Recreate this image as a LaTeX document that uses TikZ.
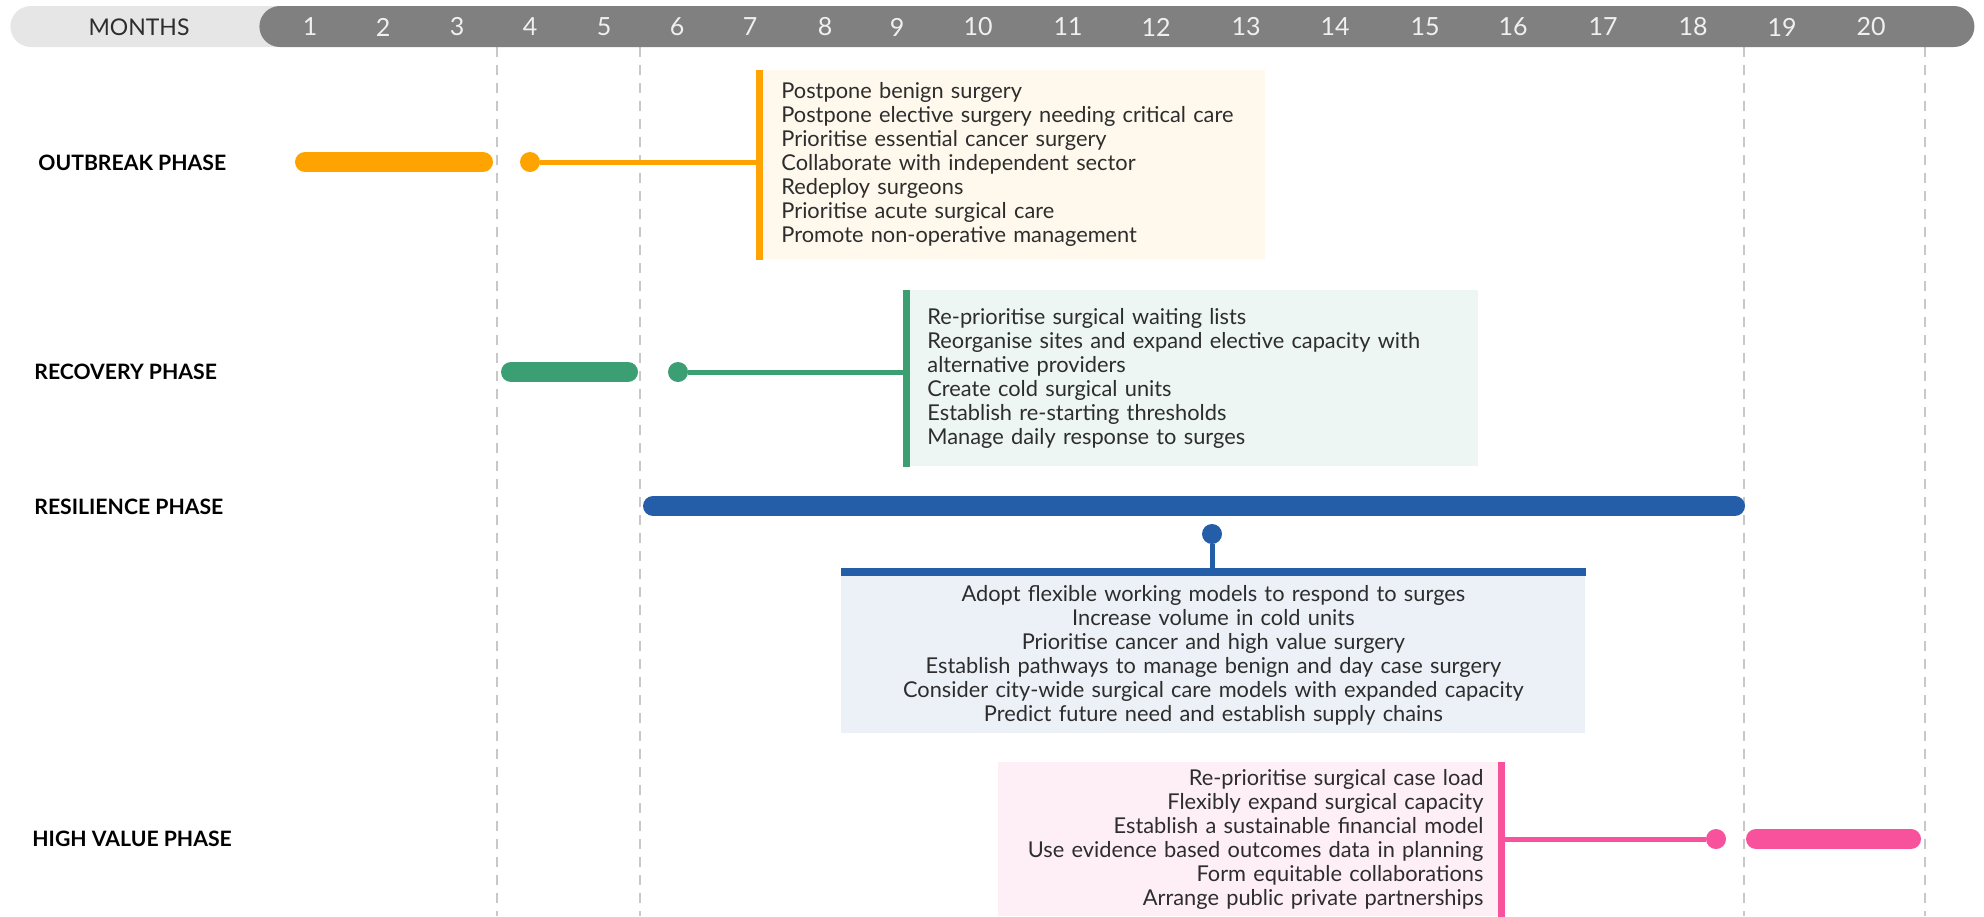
\documentclass[tikz,border=0pt]{standalone}
\usepackage{fontspec}
\setmainfont{Lato}
\usepackage{tikz}
\usetikzlibrary{positioning,calc}
\usepackage{xcolor}
\definecolor{obOrange}{RGB}{255,163,0}
\definecolor{rcGreen}{RGB}{60,158,115}
\definecolor{rsBlue}{RGB}{36,94,168}
\definecolor{hvPink}{RGB}{247,82,155}
\definecolor{hdrGray}{RGB}{128,128,128}
\definecolor{hdrLight}{RGB}{230,230,230}
\definecolor{guideGray}{RGB}{200,200,200}
\definecolor{txtGray}{RGB}{45,45,45}

\begin{document}
\begin{tikzpicture}[
  x=0.5pt, y=-0.5pt,
  pill/.style={rectangle, rounded corners=10.25pt, minimum height=20.5pt,
               anchor=west, inner sep=0pt},
  monthnum/.style={text=white!94!black, font=\fontsize{12.5}{14}\selectfont},
  phase/.style={anchor=west, inner sep=0pt, text=black,
                font=\fontsize{10.6}{12}\selectfont\bfseries},
  actbox/.style={rectangle, anchor=north west, inner ysep=0pt, text=txtGray,
                 font=\fontsize{10.9}{12}\selectfont},
  guide/.style={guideGray, line width=1.2pt, dash pattern=on 5pt off 4pt},
  bar/.style={line width=10pt, line cap=round},
  link/.style={line width=2.5pt},
  dot/.style={circle, inner sep=0pt, minimum size=10pt},
  edge/.style={line width=3.5pt}
]
\useasboundingbox (0,0) rectangle (1984,916);

% Month guides
\draw[guide] (497,47) -- (497,916);
\draw[guide] (640,47) -- (640,916);
\draw[guide] (1744,47) -- (1744,916);
\draw[guide] (1925,47) -- (1925,916);

% Header
\node[pill, fill=hdrLight, minimum width=145pt] (hdrlight) at (10,26.5) {};
\node[pill, fill=hdrGray, minimum width=857.5pt] (hdrdark) at (259,26.5) {};
\node[text=txtGray, font=\fontsize{11.5}{14}\selectfont] (months) at (139,27) {MONTHS};
\node[monthnum] (m1) at (310,27) {1};
\node[monthnum] (m2) at (383,27) {2};
\node[monthnum] (m3) at (457,27) {3};
\node[monthnum] (m4) at (530,27) {4};
\node[monthnum] (m5) at (604,27) {5};
\node[monthnum] (m6) at (677,27) {6};
\node[monthnum] (m7) at (750,27) {7};
\node[monthnum] (m8) at (825,27) {8};
\node[monthnum] (m9) at (897,27) {9};
\node[monthnum] (m10) at (978,27) {10};
\node[monthnum] (m11) at (1068,27) {11};
\node[monthnum] (m12) at (1156,27) {12};
\node[monthnum] (m13) at (1246,27) {13};
\node[monthnum] (m14) at (1335,27) {14};
\node[monthnum] (m15) at (1425,27) {15};
\node[monthnum] (m16) at (1513,27) {16};
\node[monthnum] (m17) at (1603,27) {17};
\node[monthnum] (m18) at (1693,27) {18};
\node[monthnum] (m19) at (1782,27) {19};
\node[monthnum] (m20) at (1871,27) {20};

% Outbreak phase
\node[phase] (outbreak) at (38,163) {OUTBREAK PHASE};
\draw[bar, obOrange] (305,162) -- (483,162);
\node[dot, fill=obOrange] (obdot) at (530,162) {};
\node[actbox, fill=obOrange!7, text width=231pt, inner xsep=11pt,
      minimum height=94.5pt, align=left] (obbox) at (759,70)
  {Postpone benign surgery\\
   Postpone elective surgery needing critical care\\
   Prioritise essential cancer surgery\\
   Collaborate with independent sector\\
   Redeploy surgeons\\
   Prioritise acute surgical care\\
   Promote non-operative management};
\draw[edge, obOrange] (obbox.north west) -- (obbox.south west);
\draw[link, obOrange] (obdot) -- (obdot -| obbox.west);

% Recovery phase
\node[phase] (recovery) at (34,372) {RECOVERY PHASE};
\draw[bar, rcGreen] (511,372) -- (628,372);
\node[dot, fill=rcGreen] (rcdot) at (678,372) {};
\node[actbox, fill=rcGreen!9, text width=265pt, inner xsep=10.5pt,
      minimum height=88pt, align=left] (rcbox) at (906,290)
  {Re-prioritise surgical waiting lists\\
   Reorganise sites and expand elective capacity with\\
   alternative providers\\
   Create cold surgical units\\
   Establish re-starting thresholds\\
   Manage daily response to surges};
\draw[edge, rcGreen] (rcbox.north west) -- (rcbox.south west);
\draw[link, rcGreen] (rcdot) -- (rcdot -| rcbox.west);

% Resilience phase
\node[phase] (resilience) at (34,507) {RESILIENCE PHASE};
\draw[bar, rsBlue] (653,506) -- (1735,506);
\node[dot, fill=rsBlue] (rsdot) at (1212,534) {};
\node[actbox, fill=rsBlue!9, text width=350pt, inner xsep=11pt,
      minimum height=78.5pt, align=center] (rsbox) at (841,576)
  {Adopt flexible working models to respond to surges\\
   Increase volume in cold units\\
   Prioritise cancer and high value surgery\\
   Establish pathways to manage benign and day case surgery\\
   Consider city-wide surgical care models with expanded capacity\\
   Predict future need and establish supply chains};
\draw[line width=4pt, rsBlue] ([yshift=2pt]rsbox.north west) -- ([yshift=2pt]rsbox.north east);
\draw[link, rsBlue] (rsdot) -- (rsdot |- rsbox.north);

% High value phase
\node[phase] (highvalue) at (32,839) {HIGH VALUE PHASE};
\draw[bar, hvPink] (1756,839) -- (1911,839);
\node[dot, fill=hvPink] (hvdot) at (1716,839) {};
\node[actbox, fill=hvPink!9, text width=233.5pt, inner xsep=9pt,
      minimum height=77pt, align=right] (hvbox) at (998,762)
  {Re-prioritise surgical case load\\
   Flexibly expand surgical capacity\\
   Establish a sustainable financial model\\
   Use evidence based outcomes data in planning\\
   Form equitable collaborations\\
   Arrange public private partnerships};
\draw[edge, hvPink] (hvbox.north east) -- (hvbox.south east);
\draw[link, hvPink] (hvdot) -- (hvdot -| hvbox.east);
\end{tikzpicture}
\end{document}
